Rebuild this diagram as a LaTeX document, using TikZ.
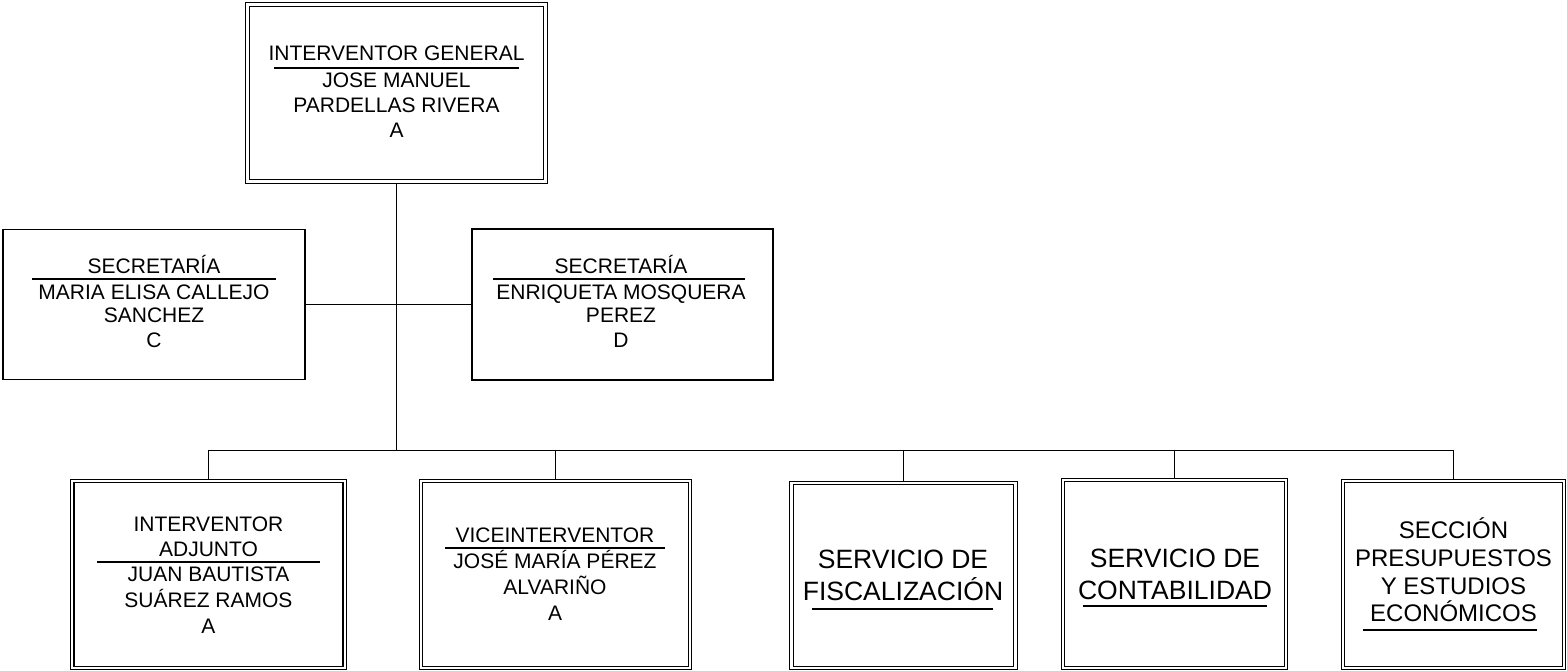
\documentclass[tikz,border=0pt]{standalone}
\usepackage{fontspec}
\setmainfont{Liberation Sans}
\begin{document}
\begin{tikzpicture}[x=1pt,y=-1pt]
\tikzset{
 dbox/.style={draw, line width=1.2pt, double, double distance=2.4pt, outer sep=2.4pt, inner sep=0pt},
 sbox/.style={draw, line width=1.6pt, outer sep=0.8pt, inner sep=0pt},
 conn/.style={line width=1.6pt},
 rulex/.style={line width=1.5pt},
 ln/.style={inner sep=0pt, anchor=base, font=\fontsize{21}{21}\selectfont},
 lnbig/.style={ln, font=\fontsize{26.5}{26.5}\selectfont},
 lnmid/.style={ln, font=\fontsize{24}{24}\selectfont},
}
\useasboundingbox (0,0) rectangle (1567,671);

% boxes
\node[dbox, minimum width=298pt, minimum height=177pt] (top) at (396.5,93) {};
\node[sbox, minimum width=302pt, minimum height=150pt] (secL) at (154,304.5) {};
\node[sbox, minimum width=301pt, minimum height=151pt] (secR) at (622.5,304.5) {};
\node[dbox, minimum width=272.5pt, minimum height=187pt] (b1) at (208.5,574.5) {};
\node[dbox, minimum width=269pt, minimum height=187pt] (b2) at (555.5,574.5) {};
\node[dbox, minimum width=224pt, minimum height=185pt] (b3) at (903.5,575.5) {};
\node[dbox, minimum width=223pt, minimum height=188pt] (b4) at (1174.5,574) {};
\node[dbox, minimum width=221pt, minimum height=187pt] (b5) at (1453.5,574.5) {};

% connectors
\coordinate (bus) at (396.5,450.5);
\draw[conn] (top.south) -- (bus);
\draw[conn] (secL.east) -- (secL.east -| top.south);
\draw[conn] (secR.west) -- (secR.west -| top.south);
\draw[conn] (b1.north) -- (b1.north |- bus) -- (b5.north |- bus) -- (b5.north);
\draw[conn] (b2.north) -- (b2.north |- bus);
\draw[conn] (b3.north) -- (b3.north |- bus);
\draw[conn] (b4.north) -- (b4.north |- bus);

% top box text
\node[ln] (ta) at (396.5,61) {INTERVENTOR GENERAL};
\draw[rulex] (274,68) -- (519,68);
\node[ln] (tb) at (396.5,87.5) {JOSE MANUEL};
\node[ln] (tc) at (396.5,113) {PARDELLAS RIVERA};
\node[ln] (td) at (396.5,138) {A};

% left secretary
\node[ln] (la) at (154,273) {SECRETARÍA};
\draw[rulex] (32,279) -- (276,279);
\node[ln] (lb) at (154,299) {MARIA ELISA CALLEJO};
\node[ln] (lc) at (154,323) {SANCHEZ};
\node[ln] (ld) at (154,347) {C};

% right secretary
\node[ln] (ra) at (621,273) {SECRETARÍA};
\draw[rulex] (493,279) -- (745,279);
\node[ln] (rb) at (621,299) {ENRIQUETA MOSQUERA};
\node[ln] (rc) at (621,323) {PEREZ};
\node[ln] (rd) at (621,347) {D};

% box 1
\node[ln] (aa) at (208.5,531) {INTERVENTOR};
\node[ln] (ab) at (208.5,556) {ADJUNTO};
\draw[rulex] (97,562) -- (320,562);
\node[ln] (ac) at (208.5,581) {JUAN BAUTISTA};
\node[ln] (ad) at (208.5,607) {SUÁREZ RAMOS};
\node[ln] (ae) at (208.5,633) {A};

% box 2
\node[ln] (va) at (555,542) {VICEINTERVENTOR};
\draw[rulex] (445,548) -- (665,548);
\node[ln] (vb) at (555,568) {JOSÉ MARÍA PÉREZ};
\node[ln] (vc) at (555,594) {ALVARIÑO};
\node[ln] (vd) at (555,620) {A};

% box 3
\node[lnbig] (fa) at (903,568) {SERVICIO DE};
\node[lnbig] (fb) at (903,600) {FISCALIZACIÓN};
\draw[rulex] (812,609) -- (993,609);

% box 4
\node[lnbig] (ca) at (1175,567) {SERVICIO DE};
\node[lnbig] (cb) at (1175,599) {CONTABILIDAD};
\draw[rulex] (1083,606) -- (1267,606);

% box 5
\node[lnmid] (pa) at (1453.5,538) {SECCIÓN};
\node[lnmid] (pb) at (1453.5,566) {PRESUPUESTOS};
\node[lnmid] (pc) at (1453.5,594) {Y ESTUDIOS};
\node[lnmid] (pd) at (1453.5,621) {ECONÓMICOS};
\draw[rulex] (1363,630) -- (1537,630);
\end{tikzpicture}
\end{document}
